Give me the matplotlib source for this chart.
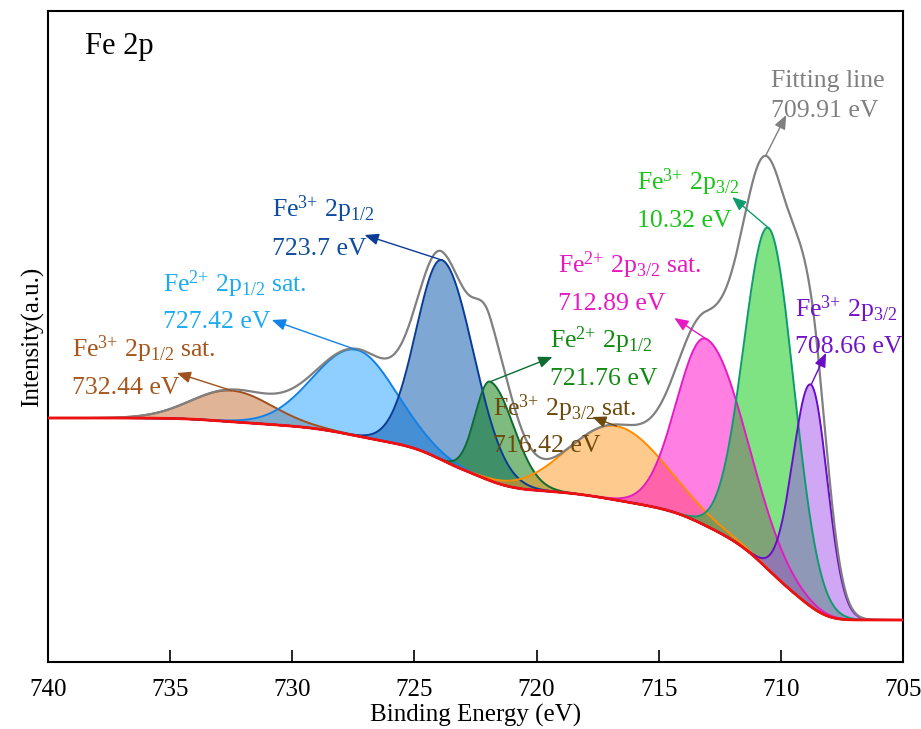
import numpy as np
import matplotlib
matplotlib.use("Agg")
import matplotlib.pyplot as plt

# ---------------------------------------------------------------
# data (intensity in arbitrary units)
peak_label1 = ["Fe$^{3{+}}$ 2p$_{1/2}$ sat.", "Fe$^{2{+}}$ 2p$_{1/2}$ sat.", "Fe$^{3{+}}$ 2p$_{1/2}$",
               "Fe$^{2{+}}$ 2p$_{1/2}$", "Fe$^{3{+}}$ 2p$_{3/2}$ sat.", "Fe$^{2{+}}$ 2p$_{3/2}$ sat.",
               "Fe$^{3{+}}$ 2p$_{3/2}$", "Fe$^{3{+}}$ 2p$_{3/2}$"]
peak_label2 = ["732.44 eV", "727.42 eV", "723.7 eV", "721.76 eV",
               "716.42 eV", "712.89 eV", "10.32 eV", "708.66 eV"]
peak_centre = [732.48, 727.37, 723.85, 721.90, 716.73, 713.05, 710.48, 708.76]
peak_height = [31, 86, 200, 99, 74, 187, 342, 222]
peak_sig_hi = [1.64, 1.75, 1.06, 0.61, 1.95, 1.20, 1.02, 0.74]   # high-BE side width (eV)
peak_sig_lo = [1.64, 1.60, 1.27, 0.98, 2.00, 1.64, 1.02, 0.67]   # low-BE side width (eV)

bg_low  = 42     # background at 705 eV
bg_high = 244    # background at 740 eV

fit_label1 = "Fitting line"
fit_label2 = "709.91 eV"

xticks = [740, 735, 730, 725, 720, 715, 710, 705]

# ---------------------------------------------------------------
line_cols = ['#A0501E', '#1282E6', '#0A3C96', '#0F6B32', '#FF8C00', '#E619C3', '#0F9B6E', '#6A0DC8']
fill_cols = ['#C06A30', '#1EA0FF', '#0050AA', '#007800', '#FF961E', '#FF00C8', '#00C80A', '#A050EB']
text_cols = ['#A6561C', '#1EAAF0', '#0D4C9E', '#118A11', '#6B4A0C', '#E619C3', '#19C319', '#7014C8']

# text anchor (x start, baseline line1, baseline line2) and arrow head
txt_x  = [739.02, 735.30, 730.84, 719.47, 721.80, 719.11, 715.88, 709.42]
txt_y1 = [305, 370, 445, 314, 246, 389, 472, 345]
txt_y2 = [268, 334, 407, 277, 210, 352, 435, 309]
arr_x  = [734.73, 730.84, 727.04, 719.35, 717.72, 714.36, 711.99, 708.15]
arr_y  = [289, 342, 427, 305, 245, 344, 465, 309]


def asym_gauss(x, c, h, s_hi, s_lo):
    s = np.where(x >= c, s_hi, s_lo)
    return h*np.exp(-0.5*((x - c)/s)**2)


if __name__ == "__main__":

    plt.rc('font', family=['Liberation Serif', 'DejaVu Serif'])
    plt.rc('mathtext', default='regular')

    fig = plt.figure(figsize=(9.21, 7.29), dpi=100)
    ax = fig.add_axes([48/921, 1 - 662/729, (903 - 48)/921, (662 - 11)/729])

    E = np.linspace(705, 740, 1401)
    comps = [asym_gauss(E, c, h, sh, sl) for c, h, sh, sl in
             zip(peak_centre, peak_height, peak_sig_hi, peak_sig_lo)]
    total = np.sum(comps, axis=0)

    # Shirley type background
    cum = np.cumsum(total)
    cum = cum - cum[0]
    bg = bg_low + (bg_high - bg_low)*cum/cum[-1]

    for i, p in enumerate(comps):
        ax.fill_between(E, bg, bg + p, color=fill_cols[i], alpha=0.5, lw=0, zorder=2)
    for i, p in enumerate(comps):
        ax.plot(E, bg + p, color=line_cols[i], lw=1.4, zorder=3)

    ax.plot(E, bg + total, color='#808080', lw=1.6, zorder=4)
    ax.plot(E, bg, color='#F01010', lw=2.0, zorder=5)

    # labels + arrows
    for i in range(len(peak_centre)):
        top = np.interp(peak_centre[i], E, bg) + peak_height[i]
        ax.annotate('', xy=(arr_x[i], arr_y[i]), xytext=(peak_centre[i], top),
                    arrowprops=dict(arrowstyle='-|>,head_length=0.6,head_width=0.25',
                                    color=line_cols[i] if i != 4 else text_cols[i],
                                    lw=1.0, shrinkA=0, shrinkB=0, mutation_scale=14),
                    zorder=6)
        ax.text(txt_x[i], txt_y1[i], peak_label1[i], color=text_cols[i], fontsize=18.5,
                ha='left', va='baseline', zorder=7)
        ax.text(txt_x[i], txt_y2[i], peak_label2[i], color=text_cols[i], fontsize=18.5,
                ha='left', va='baseline', zorder=7)

    imax = np.argmax(bg + total)
    ax.annotate('', xy=(709.78, 547), xytext=(E[imax], (bg + total)[imax]),
                arrowprops=dict(arrowstyle='-|>,head_length=0.6,head_width=0.25',
                                color='#808080', lw=1.0, shrinkA=0, shrinkB=0,
                                mutation_scale=14), zorder=6)
    ax.text(710.40, 575, fit_label1, color='#808080', fontsize=18.5, va='baseline')
    ax.text(710.40, 545, fit_label2, color='#808080', fontsize=18.5, va='baseline')

    ax.text(738.49, 608, "Fe 2p", color='k', fontsize=22, va='baseline')

    ax.set_xlim(740, 705)
    ax.set_ylim(0, 651)
    ax.set_xticks(xticks)
    ax.set_yticks([])
    ax.tick_params(axis='x', direction='in', length=9, width=1.2, labelsize=18, pad=12)
    for s in ax.spines.values():
        s.set_linewidth(1.5)

    ax.set_xlabel("Binding Energy (eV)", fontsize=18, labelpad=2)
    ax.set_ylabel("Intensity(a.u.)", fontsize=18, labelpad=3)

    plt.savefig('out.png', dpi=100)
